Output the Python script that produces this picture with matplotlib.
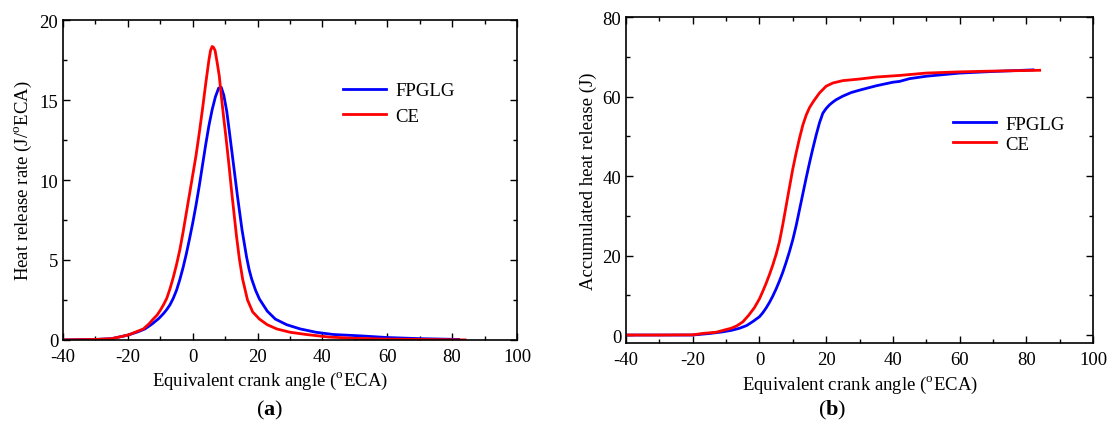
import numpy as np
import matplotlib
matplotlib.use('Agg')
import matplotlib.pyplot as plt
from matplotlib.ticker import MultipleLocator

plt.rcParams['font.family'] = ['Liberation Serif', 'DejaVu Serif']
plt.rcParams['mathtext.fontset'] = 'custom'
plt.rcParams['mathtext.rm'] = 'Liberation Serif'
plt.rcParams['mathtext.bf'] = 'Liberation Serif:bold'
plt.rcParams['axes.unicode_minus'] = False

# (a) heat release rate, J/oECA
hrr_fpglg_x = [-40, -30, -25, -20, -17, -14.7, -12.5, -10.4, -9, -8, -7, -6, -5, -4, -3, -2, -1,
               0, 1, 2, 3, 4, 5, 6, 7, 8, 8.8, 9.6, 10.5, 11.2, 12.5, 13.8, 15.2, 16.6, 17.4,
               18.2, 19.4, 20.6, 23, 25.5, 29, 33.1, 38, 43.3, 52, 60, 70, 82]
hrr_fpglg_y = [0.0, 0.03, 0.08, 0.3, 0.5, 0.69, 1.0, 1.35, 1.65, 1.9, 2.2, 2.6, 3.1, 3.75, 4.5, 5.35, 6.3,
               7.3, 8.4, 9.6, 10.9, 12.2, 13.4, 14.4, 15.2, 15.75, 15.8, 15.3, 14.3, 13.2, 11.1, 9.0, 6.9, 5.2, 4.4,
               3.8, 3.1, 2.55, 1.8, 1.3, 0.95, 0.69, 0.48, 0.34, 0.25, 0.15, 0.08, 0.03]
hrr_ce_x = [-40, -30, -25, -20, -17.5, -15.2, -13.5, -12.2, -11, -10, -9, -8, -7, -6, -5, -4, -3, -2, -1,
            0, 1, 2, 3, 4, 5, 5.5, 6.0, 6.4, 6.9, 7.5, 8.2, 8.8, 9.5, 10.3, 11.1, 12.0,
            12.8, 13.5, 14.4, 15.4, 16.9, 18.5, 20.6, 23, 25.9, 30, 35, 42, 50, 60, 70, 84]
hrr_ce_y = [0.0, 0.03, 0.08, 0.3, 0.5, 0.69, 1.0, 1.3, 1.55, 1.85, 2.2, 2.6, 3.2, 3.9, 4.7, 5.6, 6.7, 7.9, 9.1,
            10.3, 11.5, 12.9, 14.4, 16.0, 17.5, 18.1, 18.35, 18.3, 18.1, 17.4, 16.5, 15.3, 14.0, 12.6, 11.1, 9.3,
            7.8, 6.5, 5.06, 3.8, 2.5, 1.75, 1.3, 0.95, 0.69, 0.48, 0.34, 0.18, 0.1, 0.05, 0.03, 0.0]

# (b) accumulated heat release, J
ahr_fpglg_x = [-40, -30, -20, -14.8, -11, -8.3, -6, -3.8, -1.8, 0, 1, 2, 3, 4, 5, 6, 7, 8, 9,
               10, 11, 12, 13, 14, 15, 16, 17, 18, 19, 20, 21, 22, 23, 25,
               27.5, 30, 35, 40, 42, 45, 50, 55, 60, 70, 82]
ahr_fpglg_y = [0.0, 0.0, 0.0, 0.4, 0.8, 1.2, 1.7, 2.4, 3.5, 4.6, 5.6, 6.8, 8.2, 9.8, 11.6, 13.6, 15.8, 18.3, 21.0,
               24.0, 27.5, 31.5, 35.5, 39.5, 43.3, 46.9, 50.3, 53.4, 55.8, 57.0, 57.9, 58.6, 59.2, 60.1,
               61.0, 61.6, 62.7, 63.6, 63.8, 64.5, 65.1, 65.5, 65.9, 66.3, 66.7]
ahr_ce_x = [-40, -30, -20, -17, -13, -10.8, -8.5, -6.8, -5, -3.3, -1.5, 0, 1, 2, 3, 4,
            5, 6, 7, 8, 9, 10, 11, 12, 13, 14, 15, 16.2, 18, 20, 22, 25, 30,
            35, 42, 50, 60, 70, 84]
ahr_ce_y = [0.0, 0.0, 0.05, 0.4, 0.7, 1.2, 1.7, 2.3, 3.3, 4.9, 6.9, 9.1, 11.0, 13.0, 15.2, 17.6,
            20.3, 23.5, 27.8, 32.5, 37.2, 41.8, 45.8, 49.5, 52.8, 55.3, 57.2, 58.8, 60.9, 62.6, 63.4, 64.0, 64.4,
            64.9, 65.3, 65.9, 66.2, 66.4, 66.6]

blue = '#0000ff'
red = '#ff0000'
lw = 2.0
fs = 13.5

fig = plt.figure(figsize=(11.07, 4.31), dpi=100)
ax1 = fig.add_axes([0.0569, 0.209, 0.4101, 0.742])
ax2 = fig.add_axes([0.5655, 0.2019, 0.4219, 0.7563])


def style(ax):
    ax.tick_params(which='both', direction='in', top=True, right=True, labelsize=fs, width=1.0)
    ax.tick_params(which='major', length=5)
    ax.tick_params(which='minor', length=3)
    ax.tick_params(axis='x', pad=6)
    for s in ax.spines.values():
        s.set_linewidth(1.2)


ax1.plot(hrr_fpglg_x, hrr_fpglg_y, color=blue, lw=lw, label='FPGLG')
ax1.plot(hrr_ce_x, hrr_ce_y, color=red, lw=lw, label='CE')
ax1.set_xlim(-40, 100)
ax1.set_ylim(0, 20)
ax1.xaxis.set_major_locator(MultipleLocator(20))
ax1.xaxis.set_minor_locator(MultipleLocator(10))
ax1.yaxis.set_major_locator(MultipleLocator(5))
ax1.yaxis.set_minor_locator(MultipleLocator(2.5))
ax1.set_xlabel(r'Equivalent crank angle ($^{\rm o}$ECA)', fontsize=fs)
ax1.xaxis.set_label_coords(0.456, -0.095)
ax1.set_ylabel(r'Heat release rate (J/$^{\rm o}$ECA)', fontsize=fs)
style(ax1)
ax1.legend(loc='upper left', bbox_to_anchor=(0.6, 0.83), frameon=False, fontsize=fs,
           handlelength=2.3, handletextpad=0.5, labelspacing=0.45, borderaxespad=0)

ax2.plot(ahr_fpglg_x, ahr_fpglg_y, color=blue, lw=lw, label='FPGLG')
ax2.plot(ahr_ce_x, ahr_ce_y, color=red, lw=lw, label='CE')
ax2.set_xlim(-40, 100)
ax2.set_ylim(-2, 80)
ax2.xaxis.set_major_locator(MultipleLocator(20))
ax2.xaxis.set_minor_locator(MultipleLocator(10))
ax2.yaxis.set_major_locator(MultipleLocator(20))
ax2.yaxis.set_minor_locator(MultipleLocator(10))
ax2.set_xlabel(r'Equivalent crank angle ($^{\rm o}$ECA)', fontsize=fs)
ax2.set_ylabel('Accumulated heat release (J)', fontsize=fs)
style(ax2)
ax2.legend(loc='upper left', bbox_to_anchor=(0.684, 0.72), frameon=False, fontsize=fs,
           handlelength=2.3, handletextpad=0.5, labelspacing=0.15, borderaxespad=0)

fig.text(0.2439, 0.048, r'($\mathbf{a}$)', ha='center', va='center', fontsize=16)
fig.text(0.7515, 0.048, r'($\mathbf{b}$)', ha='center', va='center', fontsize=16)

fig.savefig('out.png', dpi=100)
